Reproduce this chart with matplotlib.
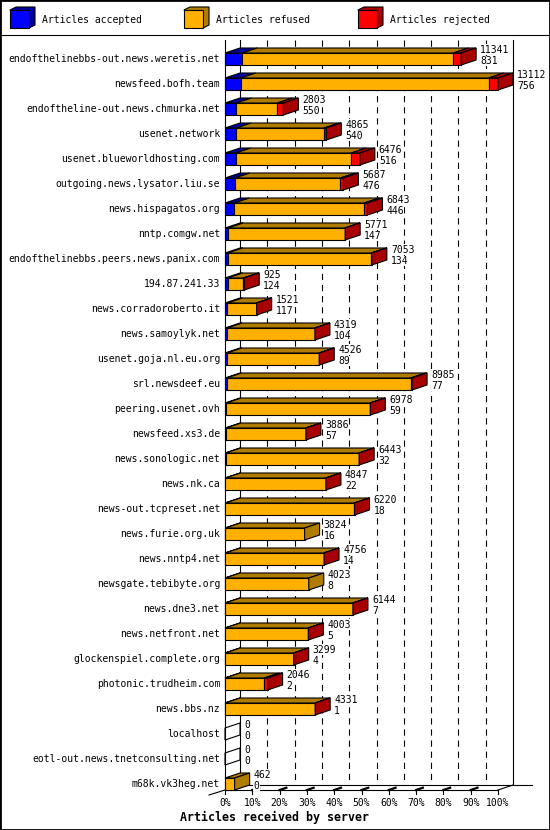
import numpy as np
import matplotlib.pyplot as plt
import matplotlib as mpl
from matplotlib.patches import Polygon, Rectangle

mpl.rcParams['font.family'] = 'DejaVu Sans Mono'
mpl.rcParams['font.size'] = 7
mpl.rcParams['lines.scale_dashes'] = False

# --- data ---
servers = [
    "endofthelinebbs-out.news.weretis.net", "newsfeed.bofh.team",
    "endoftheline-out.news.chmurka.net", "usenet.network",
    "usenet.blueworldhosting.com", "outgoing.news.lysator.liu.se",
    "news.hispagatos.org", "nntp.comgw.net",
    "endofthelinebbs.peers.news.panix.com", "194.87.241.33",
    "news.corradoroberto.it", "news.samoylyk.net", "usenet.goja.nl.eu.org",
    "srl.newsdeef.eu", "peering.usenet.ovh", "newsfeed.xs3.de",
    "news.sonologic.net", "news.nk.ca", "news-out.tcpreset.net",
    "news.furie.org.uk", "news.nntp4.net", "newsgate.tebibyte.org",
    "news.dne3.net", "news.netfront.net", "glockenspiel.complete.org",
    "photonic.trudheim.com", "news.bbs.nz", "localhost",
    "eotl-out.news.tnetconsulting.net", "m68k.vk3heg.net",
]
offered = [11341, 13112, 2803, 4865, 6476, 5687, 6843, 5771, 7053, 925,
           1521, 4319, 4526, 8985, 6978, 3886, 6443, 4847, 6220, 3824,
           4756, 4023, 6144, 4003, 3299, 2046, 4331, 0, 0, 462]
accepted = [831, 756, 550, 540, 516, 476, 446, 147, 134, 124,
            117, 104, 89, 77, 59, 57, 32, 22, 18, 16,
            14, 8, 7, 5, 4, 2, 1, 0, 0, 0]
refused = [10140, 11906, 1963, 4215, 5545, 5066, 6237, 5609, 6894, 756,
           1399, 4210, 4432, 8838, 6914, 3824, 6406, 4820, 6197, 3808,
           4737, 4015, 6132, 3995, 3292, 1884, 4325, 0, 0, 462]
rejected = [370, 450, 290, 110, 415, 145, 160, 15, 25, 45,
            5, 5, 5, 70, 5, 5, 5, 5, 5, 0,
            5, 0, 5, 3, 3, 160, 5, 0, 0, 0]
x_ticks = [0, 10, 20, 30, 40, 50, 60, 70, 80, 90, 100]
legend_labels = ["Articles accepted", "Articles refused", "Articles rejected"]

FRONT = ['#0000ff', '#ffb000', '#ff0000']
DARK = ['#0000a0', '#b07c00', '#a80000']

W, H = 550, 830
PX = 2.73      # pixels per percent
ROW = 25.0     # pixels per row
X0, Y0 = 225, 59

fig = plt.figure(figsize=(W / 100, H / 100), dpi=100)
ax = fig.add_axes([0, 0, 1, 1])
ax.set_xlim(-X0 / PX, (W - X0) / PX)
ax.set_ylim((H - Y0) / ROW, -Y0 / ROW)
ax.axis('off')


def px(xp, yp):
    return (xp - X0) / PX, (yp - Y0) / ROW


DX = 15 / PX
DY = 5 / ROW
BH = 6 / ROW
LW = 0.8
top_y = px(0, 40)[1]
floor_back = px(0, 785)[1]
floor_front = px(0, 790)[1]
white = dict(facecolor='white', edgecolor='none', pad=0.3)

# --- walls and grid ---
ax.plot([0, 0], [top_y, floor_front], color='black', lw=LW, zorder=1)
ax.plot([DX, DX], [top_y, floor_back], color='black', lw=LW, zorder=1)
ax.plot([100 + DX, 100 + DX], [top_y, floor_back], color='black', lw=LW, zorder=1)
for t in x_ticks[1:-1]:
    ax.plot([t + DX, t + DX], [top_y, floor_back], color='black', lw=LW,
            dashes=(4.5, 3.5), zorder=1)
    ax.plot([t, t + DX * 0.45], [floor_front, floor_front - DY * 0.45],
            color='black', lw=1.6, zorder=1)
ax.plot([DX, px(532, 0)[0]], [floor_back, floor_back], color='black', lw=LW, zorder=1)
ax.plot([0, 100], [floor_front, floor_front], color='black', lw=LW, zorder=1)
ax.plot([100, 100 + DX], [floor_front, floor_back], color='black', lw=LW, zorder=1)
ax.plot([0, px(209, 0)[0]], [floor_front, px(0, 795)[1]], color='black', lw=LW, zorder=1)
for t in x_ticks:
    ax.plot([t, t], [floor_front, floor_front + 4 / ROW], color='black', lw=LW, zorder=1)
    ax.text(t, px(0, 803)[1], f"{t}%", ha='center', va='center')

ax.text(px(274, 0)[0], px(0, 817)[1], "Articles received by server",
        ha='center', va='center', fontweight='bold', fontsize=8.4)

# --- bars ---
scale = 100.0 / max(offered)
for i, name in enumerate(servers):
    ax.text(px(220, 0)[0], i, name, ha='right', va='center')
    segs = [accepted[i], refused[i], rejected[i]]
    top, bot = i - BH, i + BH
    left = 0.0
    last = None
    for k, v in enumerate(segs):
        if v <= 0:
            continue
        w = v * scale
        ax.add_patch(Rectangle((left, top), w, bot - top, facecolor=FRONT[k],
                               edgecolor='black', lw=LW, zorder=3))
        ax.add_patch(Polygon([(left, top), (left + DX, top - DY),
                              (left + w + DX, top - DY), (left + w, top)],
                             facecolor=DARK[k], edgecolor='black', lw=LW, zorder=3))
        left += w
        last = k
    side_fc = DARK[last] if last is not None else 'none'
    ax.add_patch(Polygon([(left, top), (left + DX, top - DY),
                          (left + DX, bot - DY), (left, bot)],
                         facecolor=side_fc, edgecolor='black', lw=LW, zorder=3))
    tx = left + DX + 4 / PX
    ax.text(tx, i - 0.38, str(offered[i]), ha='left', va='center', zorder=4, bbox=white)
    ax.text(tx, i + 0.08, str(accepted[i]), ha='left', va='center', zorder=4, bbox=white)

# --- legend ---
leg_x = [10, 184, 358]
for k, lab in enumerate(legend_labels):
    x0, y0 = px(leg_x[k], 10)
    x1, y1 = px(leg_x[k] + 19, 28)
    ddx, ddy = 6 / PX, 3 / ROW
    ax.add_patch(Polygon([(x0, y0), (x0 + ddx, y0 - ddy), (x1 + ddx, y0 - ddy),
                          (x1 + ddx, y1 - ddy), (x1, y1)],
                         facecolor=DARK[k], edgecolor='black', lw=LW, zorder=3))
    ax.add_patch(Rectangle((x0, y0), x1 - x0, y1 - y0, facecolor=FRONT[k],
                           edgecolor='black', lw=LW, zorder=3))
    ax.text(px(leg_x[k] + 32, 0)[0], px(0, 20)[1], lab, ha='left', va='center')

sep = px(0, 35)[1]
ax.plot([-X0 / PX, (W - X0) / PX], [sep, sep], color='black', lw=LW)

fig.patches.append(Rectangle((0, 0), 1, 1, transform=fig.transFigure,
                             fill=False, edgecolor='black', lw=2))

fig.savefig('out.png', dpi=100)
